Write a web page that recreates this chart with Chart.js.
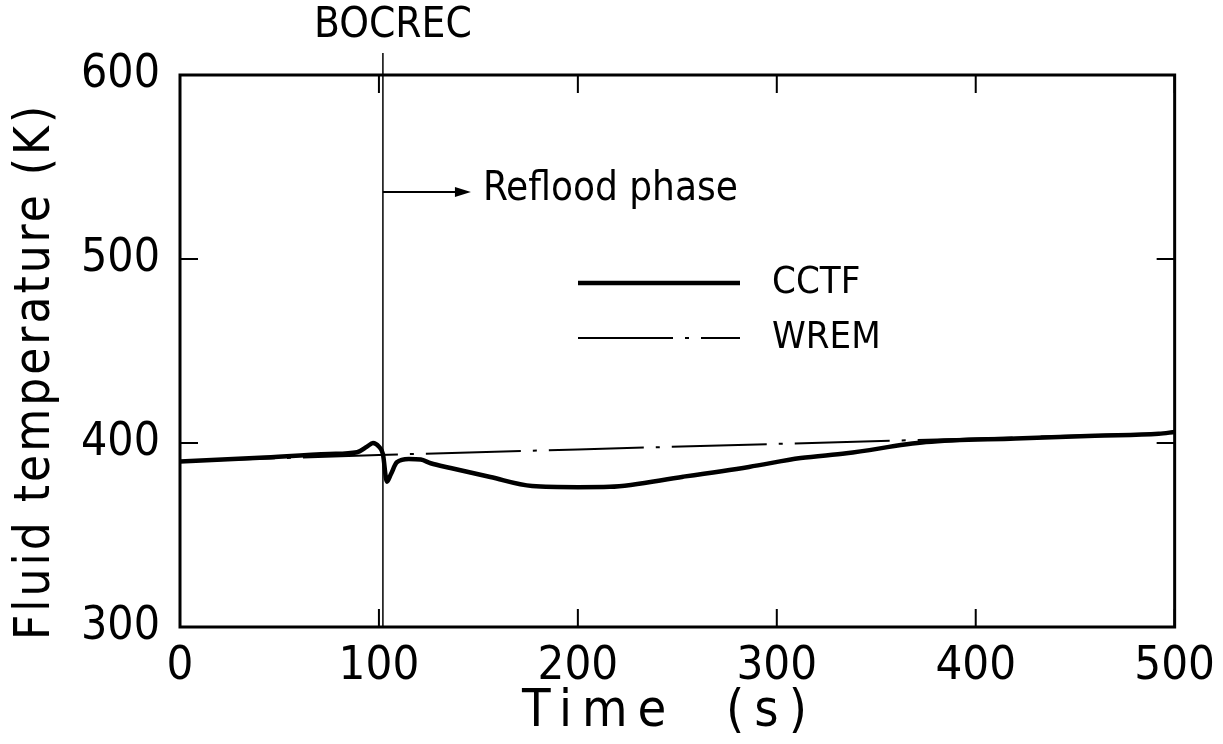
<!DOCTYPE html>
<html>
<head>
<meta charset="utf-8">
<script src="https://cdn.jsdelivr.net/npm/chart.js@4"></script>
<style>
  html, body { margin: 0; padding: 0; background: #fff; }
  #wrap { width: 1223px; height: 744px; }
</style>
</head>
<body>
<div id="wrap"><canvas id="chart" width="1223" height="744"></canvas></div>
<script>
// values
const cctfTime = [0, 40, 75, 89, 94, 97, 100, 102, 104, 106, 109, 115, 121, 126, 136, 156, 177, 200, 216, 253, 286, 312, 335, 375, 420, 460, 492, 500];
const cctfTemp = [390, 392, 394, 395, 398, 400, 398, 394, 379, 383, 389.5, 391.3, 391, 389, 386.4, 381.5, 376.6, 376, 376.2, 381.7, 387, 391.8, 394.4, 400.5, 402.5, 404, 405, 406];
const wremTime = [0, 100, 200, 300, 400, 500];
const wremTemp = [390, 393.5, 396.5, 399.5, 402.5, 405.5];
const xTicks = [0, 100, 200, 300, 400, 500];
const yTicks = [300, 400, 500, 600];
const bocrecTime = 102;

const NARROW = "'Liberation Sans Narrow', 'DejaVu Sans Condensed', 'Liberation Sans', sans-serif";

const toXY = (xs, ys) => xs.map((x, i) => ({ x: x, y: ys[i] }));

// frame, inward ticks, annotations, legend, axis titles
const decorations = {
  id: 'decorations',
  afterDatasetsDraw(chart) {
    const ctx = chart.ctx;
    const a = chart.chartArea;
    const xs = chart.scales.x, ys = chart.scales.y;
    ctx.save();
    ctx.strokeStyle = '#000';
    ctx.fillStyle = '#000';

    // frame
    ctx.lineWidth = 3;
    ctx.strokeRect(a.left, a.top, a.right - a.left, a.bottom - a.top);

    // inward ticks on all four sides
    ctx.lineWidth = 2;
    const tl = 18;
    xTicks.forEach(v => {
      const px = xs.getPixelForValue(v);
      ctx.beginPath();
      ctx.moveTo(px, a.bottom); ctx.lineTo(px, a.bottom - tl);
      ctx.moveTo(px, a.top); ctx.lineTo(px, a.top + tl);
      ctx.stroke();
    });
    yTicks.forEach(v => {
      const py = ys.getPixelForValue(v);
      ctx.beginPath();
      ctx.moveTo(a.left, py); ctx.lineTo(a.left + tl, py);
      ctx.moveTo(a.right, py); ctx.lineTo(a.right - tl, py);
      ctx.stroke();
    });

    // BOCREC marker
    const bx = xs.getPixelForValue(bocrecTime);
    ctx.lineWidth = 1.5;
    ctx.beginPath();
    ctx.moveTo(bx, a.top - 22); ctx.lineTo(bx, a.bottom);
    ctx.stroke();
    ctx.font = '42px ' + NARROW;
    ctx.textAlign = 'center';
    ctx.textBaseline = 'middle';
    ctx.fillText('BOCREC', bx + 10, 26);

    // reflood arrow
    const ay = 192;
    const ax2 = bx + 88;
    ctx.lineWidth = 2;
    ctx.beginPath();
    ctx.moveTo(bx, ay); ctx.lineTo(ax2 - 6, ay);
    ctx.stroke();
    ctx.beginPath();
    ctx.moveTo(ax2, ay); ctx.lineTo(ax2 - 16, ay - 5); ctx.lineTo(ax2 - 16, ay + 5);
    ctx.closePath(); ctx.fill();
    ctx.font = '40px ' + NARROW;
    ctx.textAlign = 'left';
    ctx.fillText('Reflood phase', ax2 + 12, ay - 2);

    // legend
    const lx1 = a.left + 398, lx2 = a.left + 560;
    const rows = [283, 338];
    chart.data.datasets.forEach((ds, i) => {
      const y = rows[i];
      ctx.lineWidth = ds.borderWidth;
      ctx.setLineDash(ds.borderDash || []);
      ctx.beginPath();
      ctx.moveTo(lx1, y); ctx.lineTo(lx2, y);
      ctx.stroke();
      ctx.setLineDash([]);
      ctx.font = '38px ' + NARROW;
      ctx.fillText(ds.label, lx2 + 32, y);
    });

    // axis titles
    ctx.font = '52px ' + NARROW;
    ctx.textAlign = 'left';
    ctx.letterSpacing = '10px';
    ctx.fillText('Time  (s)', 522, 712);
    ctx.save();
    ctx.translate(36, 640);
    ctx.rotate(-Math.PI / 2);
    ctx.font = '49px ' + NARROW;
    ctx.letterSpacing = '3px';
    ctx.fillText('Fluid temperature (K)', 0, 0);
    ctx.restore();
    ctx.restore();
  }
};

new Chart(document.getElementById('chart'), {
  type: 'line',
  data: {
    datasets: [
      {
        label: 'CCTF',
        data: toXY(cctfTime, cctfTemp),
        borderColor: '#000',
        borderWidth: 4.5,
        pointRadius: 0,
        cubicInterpolationMode: 'monotone'
      },
      {
        label: 'WREM',
        data: toXY(wremTime, wremTemp),
        borderColor: '#000',
        borderWidth: 2,
        borderDash: [95, 12, 4, 12],
        pointRadius: 0
      }
    ]
  },
  plugins: [decorations],
  options: {
    responsive: false,
    animation: false,
    events: [],
    layout: { padding: { top: 75, right: 48, left: 0, bottom: 0 } },
    plugins: { legend: { display: false }, tooltip: { enabled: false } },
    scales: {
      x: {
        type: 'linear',
        min: 0, max: 500,
        afterBuildTicks: s => { s.ticks = xTicks.map(v => ({ value: v })); },
        afterFit: s => { s.height = 117; },
        grid: { display: false },
        border: { display: false },
        ticks: { color: '#000', padding: 8, font: { family: NARROW, size: 47, lineHeight: 1 } }
      },
      y: {
        min: 300, max: 600,
        afterBuildTicks: s => { s.ticks = yTicks.map(v => ({ value: v })); },
        afterFit: s => { s.width = 180; },
        grid: { display: false },
        border: { display: false },
        ticks: { color: '#000', padding: 12, font: { family: NARROW, size: 46, lineHeight: 1 } }
      }
    }
  }
});
</script>
</body>
</html>
